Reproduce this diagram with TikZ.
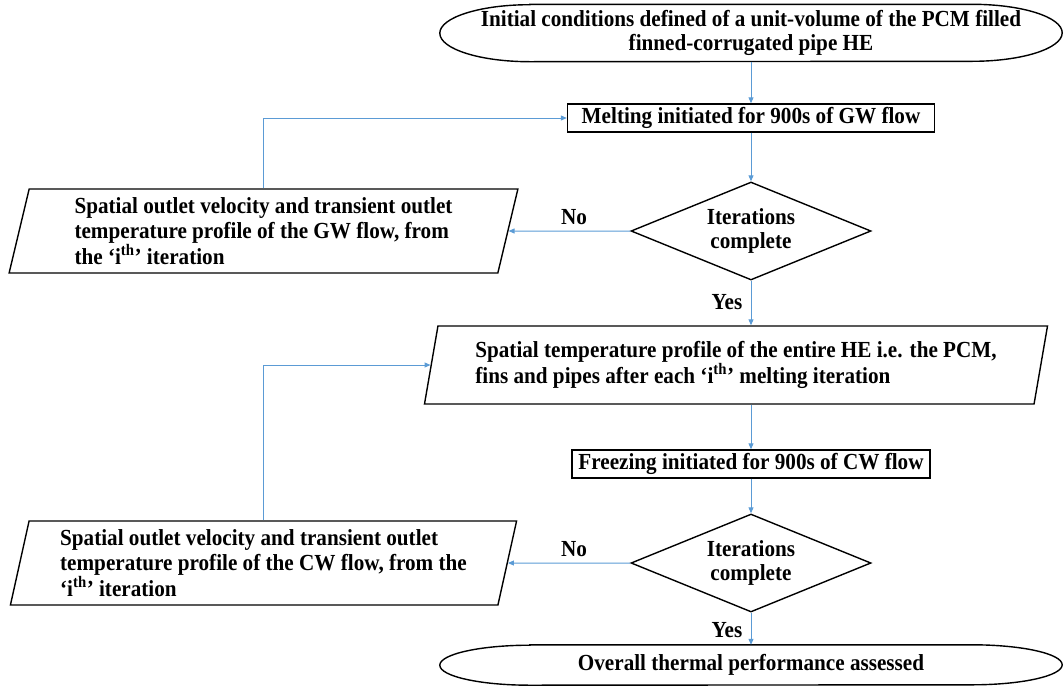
\documentclass[tikz,border=0pt]{standalone}
\usepackage{fontspec}
\setmainfont{Liberation Serif}[FakeStretch=0.92]
\usetikzlibrary{shapes.geometric,arrows.meta,positioning}

\definecolor{flowblue}{RGB}{91,155,213}

\tikzset{
  txt/.style={font=\bfseries\fontsize{23}{24.5}\selectfont},
  terminal/.style={txt, minimum width=622pt, inner sep=0pt, align=center},
  outline/.style={draw=black, line width=1.4pt},
  box/.style={txt, outline, minimum height=28pt, inner sep=2pt},
  iobox/.style={txt, outline, trapezium, trapezium stretches=true,
    trapezium left angle=77, trapezium right angle=103, align=left, inner sep=2pt},
  decision/.style={txt, outline, diamond, aspect=2.5, minimum width=240pt,
    minimum height=98pt, inner sep=0pt, align=center},
  lbl/.style={txt, inner sep=0pt},
  flow/.style={draw=flowblue, line width=1pt, -{Triangle[length=6pt,width=5pt]}}
}

\begin{document}
\begin{tikzpicture}[x=1pt,y=1pt]
  % Page frame
  \useasboundingbox (0,0) rectangle (1063,-686);

  % Main column
  \node[terminal, minimum height=57pt] (init) at (751,-33)
    {Initial conditions defined of a unit-volume of the PCM filled\\finned-corrugated pipe HE};
  \node[box, minimum width=367pt] (melt) at (751,-118) {Melting initiated for 900s of GW flow};
  \node[decision] (dec1) at (751,-231) {Iterations\\complete};
  \node[iobox, minimum width=625pt, minimum height=78pt] (profile) at (736,-365)
    {Spatial temperature profile of the entire HE i.e. the PCM,\\
     fins and pipes after each ‘i\textsuperscript{th}’ melting iteration};
  \node[box, minimum width=358pt] (freeze) at (751,-464) {Freezing initiated for 900s of CW flow};
  \node[decision] (dec2) at (751,-563) {Iterations\\complete};
  \node[terminal, minimum height=40pt] (fin) at (751,-665) {Overall thermal performance assessed};

  % Outputs on the left
  \node[iobox, minimum width=509pt, minimum height=84pt] (gwout) at (263.5,-231)
    {Spatial outlet velocity and transient outlet\\
     temperature profile of the GW flow, from\\
     the ‘i\textsuperscript{th}’ iteration};
  \node[iobox, minimum width=509pt, minimum height=84pt] (cwout) at (263.5,-563)
    {Spatial outlet velocity and transient outlet\\
     temperature profile of the CW flow, from the\\
     ‘i\textsuperscript{th}’ iteration};

  % Terminal outlines
  \draw[outline] ([xshift=90pt]init.north west) -- ([xshift=-90pt]init.north east)
    arc[start angle=90, end angle=-90, x radius=90pt, y radius=28.5pt]
    -- ([xshift=90pt]init.south west)
    arc[start angle=270, end angle=90, x radius=90pt, y radius=28.5pt] -- cycle;
  \draw[outline] ([xshift=90pt]fin.north west) -- ([xshift=-90pt]fin.north east)
    arc[start angle=90, end angle=-90, x radius=90pt, y radius=20pt]
    -- ([xshift=90pt]fin.south west)
    arc[start angle=270, end angle=90, x radius=90pt, y radius=20pt] -- cycle;

  % Yes / No labels
  \node[lbl] (no1) at (574,-217) {No};
  \node[lbl] (yes1) at (727,-302) {Yes};
  \node[lbl] (no2) at (574,-549) {No};
  \node[lbl] (yes2) at (727,-630) {Yes};

  % Connectors
  \draw[flow] (init) -- (melt);
  \draw[flow] (melt) -- (dec1);
  \draw[flow] (dec1.west) -- (gwout.east);
  \draw[flow] (gwout.north) |- (melt.west);
  \draw[flow] (dec1.south) -- (dec1.south |- profile.north);
  \draw[flow] (freeze.north |- profile.south) -- (freeze.north);
  \draw[flow] (freeze) -- (dec2);
  \draw[flow] (dec2.west) -- (cwout.east);
  \draw[flow] (cwout.north) |- (profile.west);
  \draw[flow] (dec2.south) -- (fin.north);
\end{tikzpicture}
\end{document}
